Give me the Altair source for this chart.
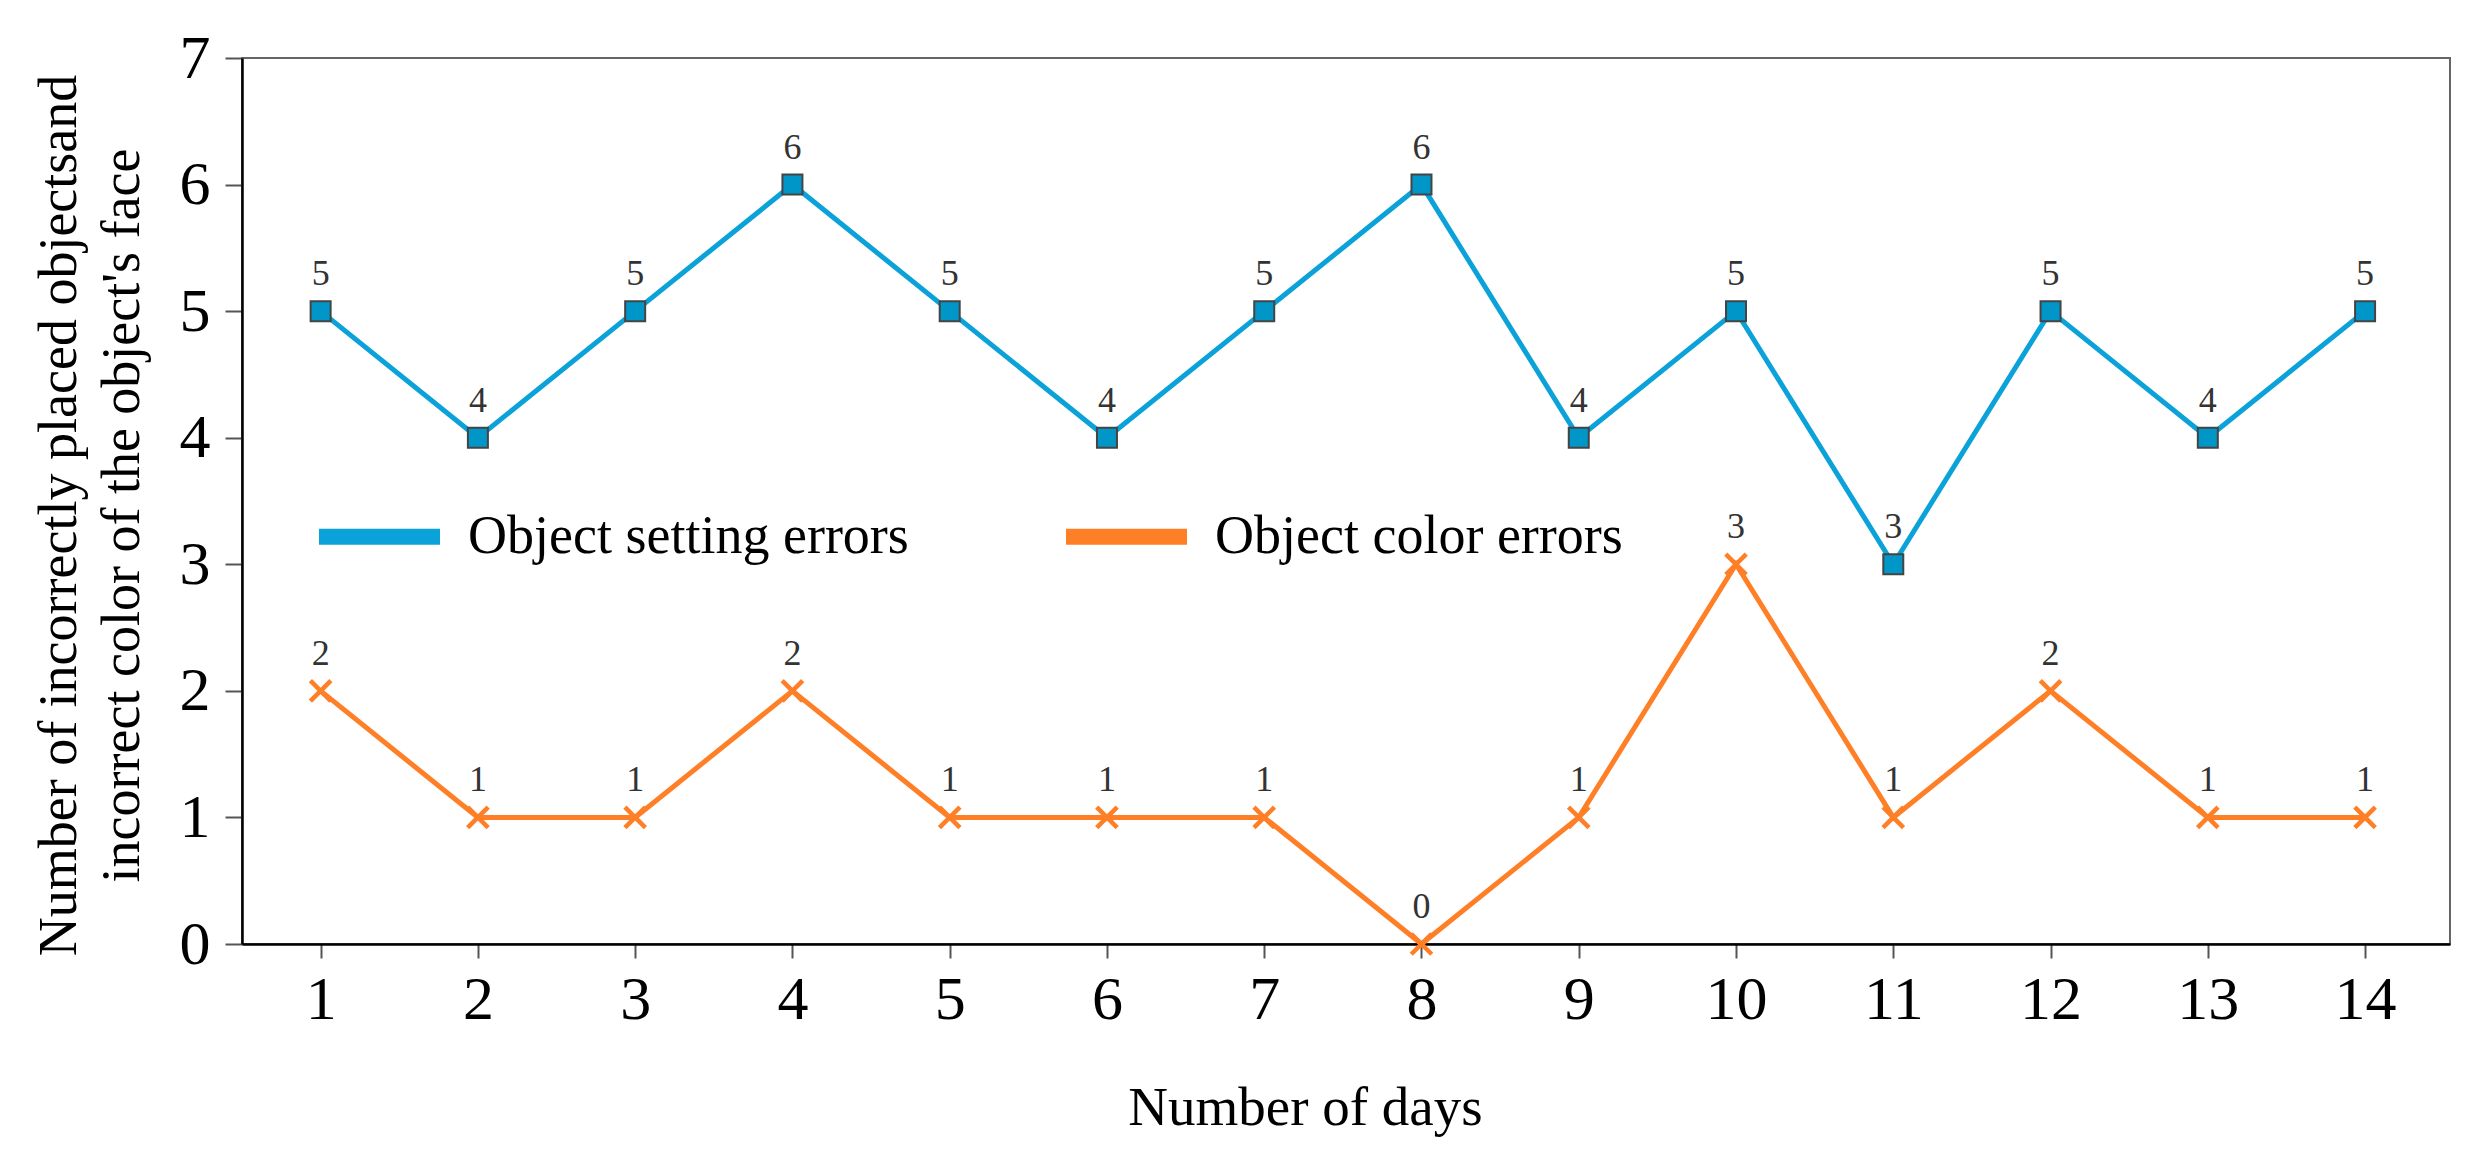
import altair as alt
import pandas as pd

days = list(range(1, 15))
setting_errors = [5, 4, 5, 6, 5, 4, 5, 6, 4, 5, 3, 5, 4, 5]
color_errors = [2, 1, 1, 2, 1, 1, 1, 0, 1, 3, 1, 2, 1, 1]
series_names = ["Object setting errors", "Object color errors"]
series_colors = ["#0AA2D8", "#FF7F27"]
y_title = ["Number of incorrectly placed objectsand",
           "incorrect color of the object's face"]

FONT = "Liberation Serif"

df = pd.concat([
    pd.DataFrame({"day": days, "errors": setting_errors, "series": series_names[0]}),
    pd.DataFrame({"day": days, "errors": color_errors, "series": series_names[1]}),
])

x = alt.X("day:Q",
          scale=alt.Scale(domain=[0.5, 14.54], nice=False, zero=False),
          axis=alt.Axis(values=days, format="d", grid=False,
                        tickSize=14, tickWidth=2, tickColor="#555",
                        domainColor="#000", domainWidth=2.5,
                        labelFont=FONT, labelFontSize=62, labelColor="#000",
                        labelPadding=11,
                        title="Number of days", titleFont=FONT,
                        titleFontSize=55, titleFontWeight="normal",
                        titleColor="#000", titleX=1063, titleY=180,
                        titleBaseline="alphabetic", titleAlign="center"))
y = alt.Y("errors:Q",
          scale=alt.Scale(domain=[0, 7], nice=False),
          axis=alt.Axis(values=list(range(0, 8)), grid=False,
                        tickSize=17, tickWidth=2, tickColor="#555",
                        domainColor="#000", domainWidth=2.5,
                        labelFont=FONT, labelFontSize=62, labelColor="#000",
                        labelPadding=15,
                        title=y_title, titleFont=FONT, titleFontSize=54,
                        titleFontWeight="normal", titleColor="#000",
                        titleLineHeight=63, titleX=-183, titleY=457,
                        titleBaseline="middle", titleAlign="center",
                        titleAngle=270))

color = alt.Color("series:N",
                  scale=alt.Scale(domain=series_names, range=series_colors),
                  legend=alt.Legend(title=None, orient="none",
                                    direction="horizontal",
                                    legendX=69, legendY=410,
                                    symbolType="stroke",
                                    symbolStrokeWidth=16,
                                    symbolSize=14641,
                                    labelFont=FONT, labelFontSize=54,
                                    labelColor="#000", labelOffset=20,
                                    labelLimit=0,
                                    columnPadding=125, padding=0))

lines = alt.Chart(df).mark_line(strokeWidth=5).encode(
    x=x, y=y, color=color, order="day:Q")

squares = alt.Chart(df).transform_filter(
    alt.datum.series == series_names[0]
).mark_point(shape="square", filled=True, size=400, fill="#0096C8",
             stroke="#444", strokeWidth=2, opacity=1).encode(x=x, y=y)

crosses = alt.Chart(df).transform_filter(
    alt.datum.series == series_names[1]
).mark_point(shape="M-1,-1L1,1M1,-1L-1,1", filled=False, size=420,
             stroke=series_colors[1], strokeWidth=4.5, opacity=1
             ).encode(x=x, y=y)

labels = alt.Chart(df).mark_text(dy=-37, font=FONT, fontSize=36,
                                 color="#333", baseline="middle").encode(
    x=x, y=y, text="errors:Q")

chart = alt.layer(lines, squares, crosses, labels).properties(
    width=2208, height=886,
    autosize=alt.AutoSizeParams(type="none"),
    padding={"left": 234, "top": 50, "right": 24, "bottom": 200},
).configure_view(stroke="#666", strokeWidth=2)

chart.save("out.html", embed_options={"renderer": "svg", "actions": False})
